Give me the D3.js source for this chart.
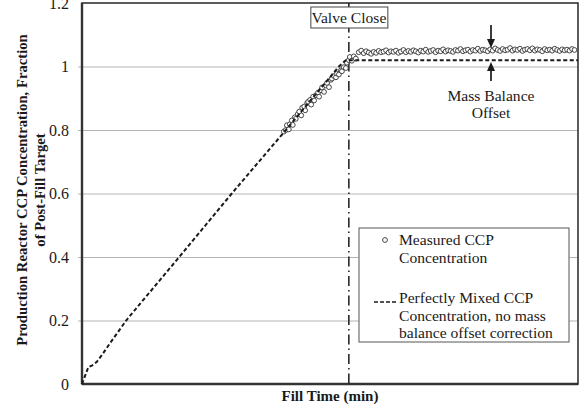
<meta charset="utf-8">
<html>
<script src="https://cdnjs.cloudflare.com/ajax/libs/d3/7.8.5/d3.min.js"></script>
<style>
body { margin: 0; background: #fff; }
svg text { font-family: "Liberation Serif", "Times New Roman", serif; fill: #1a1a1a; }
</style>
<body>
<svg id="chart" width="584" height="416"></svg>
<script type="text/javascript">

// ---- data ----
var yTicks = [0, 0.2, 0.4, 0.6, 0.8, 1, 1.2];
var yTickLabels = ["0", "0.2", "0.4", "0.6", "0.8", "1", "1.2"];

// perfectly mixed (dashed) curve
var mixedTime = [0, 1.3, 2.0, 3.0, 4.0, 5.5, 8.9, 19.6, 30.2, 41.1, 51.8, 53.2, 100];
var mixedConc = [0, 0.054, 0.058, 0.07, 0.091, 0.125, 0.2, 0.4, 0.6, 0.8, 1.0, 1.02, 1.02];

// measured points while filling
var rampTime = [40.7, 41.1, 41.3, 41.7, 41.9, 42.3, 42.5, 42.9, 43.1, 43.5,
                43.8, 44.2, 44.4, 44.8, 45.0, 45.4, 45.6, 46.0, 46.2, 46.6,
                46.8, 47.2, 47.6, 47.8, 48.2, 48.4, 48.8, 49.2, 49.4, 49.8,
                50.2, 50.4, 50.8, 51.2, 51.4, 51.8, 52.2, 52.4, 52.8, 53.2,
                53.4, 53.8, 54.0, 54.4, 54.8, 55.2];
var rampConc = [0.795, 0.80, 0.815, 0.802, 0.818, 0.83, 0.816, 0.84, 0.835, 0.85,
                0.858, 0.846, 0.87, 0.874, 0.862, 0.885, 0.889, 0.895, 0.88, 0.905,
                0.893, 0.91, 0.918, 0.905, 0.925, 0.934, 0.92, 0.94, 0.948, 0.935,
                0.958, 0.962, 0.97, 0.966, 0.978, 0.975, 0.988, 0.985, 0.998, 0.995,
                1.012, 1.02, 1.03, 1.018, 1.032, 1.025];

// measured points after valve close
var plateauTime = [55.8, 56.3, 56.8, 57.3, 57.8, 58.3, 58.8, 59.3, 59.8, 60.3,
                   60.8, 61.3, 61.8, 62.3, 62.8, 63.3, 63.8, 64.3, 64.8, 65.3,
                   65.8, 66.3, 66.8, 67.3, 67.8, 68.3, 68.8, 69.3, 69.8, 70.3,
                   70.8, 71.3, 71.8, 72.3, 72.8, 73.3, 73.8, 74.3, 74.8, 75.3,
                   75.8, 76.3, 76.8, 77.3, 77.8, 78.3, 78.8, 79.3, 79.8, 80.3,
                   80.8, 81.3, 81.8, 82.3, 82.8, 83.3, 83.8, 84.3, 84.8, 85.3,
                   85.8, 86.3, 86.8, 87.3, 87.8, 88.3, 88.8, 89.3, 89.8, 90.3,
                   90.8, 91.3, 91.8, 92.3, 92.8, 93.3, 93.8, 94.3, 94.8, 95.3,
                   95.8, 96.3, 96.8, 97.3, 97.8, 98.3, 98.8, 99.3];
var plateauConc = [1.045, 1.05, 1.042, 1.048, 1.044, 1.04, 1.046, 1.043, 1.049, 1.045,
                   1.047, 1.051, 1.044, 1.048, 1.046, 1.05, 1.043, 1.047, 1.052, 1.045,
                   1.049, 1.046, 1.051, 1.048, 1.044, 1.05, 1.047, 1.053, 1.046, 1.049,
                   1.052, 1.045, 1.05, 1.048, 1.054, 1.047, 1.051, 1.049, 1.046, 1.052,
                   1.05, 1.055, 1.048, 1.051, 1.053, 1.047, 1.052, 1.05, 1.056, 1.049,
                   1.053, 1.051, 1.048, 1.054, 1.05, 1.057, 1.052, 1.049, 1.055, 1.051,
                   1.053, 1.058, 1.05, 1.054, 1.052, 1.056, 1.049, 1.053, 1.055, 1.051,
                   1.057, 1.05, 1.054, 1.052, 1.048, 1.055, 1.051, 1.053, 1.05, 1.056,
                   1.052, 1.049, 1.054, 1.051, 1.053, 1.05, 1.055, 1.052];

var valveTime = 53.8;

// ---- layout ----
var svg = d3.select("#chart");
var plotLeft = 82, plotRight = 578, plotTop = 3, plotBottom = 384;
var fs = 15.6;

var x = d3.scaleLinear().domain([0, 100]).range([plotLeft, plotRight]);
var y = d3.scaleLinear().domain([0, 1.2]).range([plotBottom, plotTop]);

// gridlines
svg.append("g")
  .attr("transform", "translate(" + plotLeft + ",0)")
  .call(d3.axisLeft(y).tickValues(yTicks.slice(1, 6)).tickSize(-(plotRight - plotLeft)).tickFormat(""))
  .call(function(g) {
    g.select(".domain").remove();
    g.selectAll("line").attr("stroke", "#b4b4b4").attr("stroke-width", 1).attr("x1", -4);
  });

// y tick labels
svg.append("g")
  .attr("transform", "translate(" + plotLeft + ",0)")
  .call(d3.axisLeft(y).tickValues(yTicks).tickSize(0).tickPadding(13)
    .tickFormat(function(d, i) { return yTickLabels[i]; }))
  .call(function(g) {
    g.select(".domain").remove();
    g.selectAll("text").attr("font-size", 16).attr("font-family", "Liberation Serif").attr("fill", "#1a1a1a");
  });

// plot frame
svg.append("rect")
  .attr("x", plotLeft).attr("y", plotTop)
  .attr("width", plotRight - plotLeft).attr("height", plotBottom - plotTop)
  .attr("fill", "none").attr("stroke", "#333").attr("stroke-width", 1.6);
svg.append("line").attr("x1", plotLeft).attr("x2", plotLeft).attr("y1", plotTop).attr("y2", plotBottom)
  .attr("stroke", "#333").attr("stroke-width", 2.4);
svg.append("line").attr("x1", plotLeft).attr("x2", plotRight).attr("y1", plotBottom).attr("y2", plotBottom)
  .attr("stroke", "#333").attr("stroke-width", 2.4);

// valve close line
svg.append("line")
  .attr("x1", x(valveTime)).attr("x2", x(valveTime))
  .attr("y1", plotTop).attr("y2", plotBottom)
  .attr("stroke", "#1a1a1a").attr("stroke-width", 1.5)
  .attr("stroke-dasharray", "10,4,1.5,4");

// measured circles
var measured = d3.zip(rampTime, rampConc).concat(d3.zip(plateauTime, plateauConc));
svg.append("g").selectAll("circle")
  .data(measured)
  .enter().append("circle")
  .attr("cx", function(d) { return x(d[0]); })
  .attr("cy", function(d) { return y(d[1]); })
  .attr("r", 2.4)
  .attr("fill", "#fff")
  .attr("stroke", "#333")
  .attr("stroke-width", 0.9);

// perfectly mixed curve
var line = d3.line()
  .x(function(d) { return x(d[0]); })
  .y(function(d) { return y(d[1]); });
svg.append("path")
  .datum(d3.zip(mixedTime, mixedConc))
  .attr("d", line)
  .attr("fill", "none")
  .attr("stroke", "#1a1a1a")
  .attr("stroke-width", 2)
  .attr("stroke-dasharray", "4,2.5");

// valve close label
var vx = x(valveTime);
svg.append("rect").attr("x", vx - 38).attr("y", 7).attr("width", 77).attr("height", 21)
  .attr("fill", "#fff").attr("stroke", "#444").attr("stroke-width", 1);
svg.append("text").attr("x", vx).attr("y", 23).attr("text-anchor", "middle")
  .attr("font-size", fs).text("Valve Close");

// mass balance offset arrows
var ax = 491;
svg.append("line").attr("x1", ax).attr("x2", ax).attr("y1", 25).attr("y2", 41)
  .attr("stroke", "#1a1a1a").attr("stroke-width", 1.7);
svg.append("path").attr("d", "M" + (ax - 4) + ",39L" + (ax + 4) + ",39L" + ax + ",48Z").attr("fill", "#1a1a1a");
svg.append("line").attr("x1", ax).attr("x2", ax).attr("y1", 70).attr("y2", 81)
  .attr("stroke", "#1a1a1a").attr("stroke-width", 1.7);
svg.append("path").attr("d", "M" + (ax - 4) + ",71L" + (ax + 4) + ",71L" + ax + ",62Z").attr("fill", "#1a1a1a");
svg.append("text").attr("x", ax).attr("y", 101).attr("text-anchor", "middle")
  .attr("font-size", fs).text("Mass Balance");
svg.append("text").attr("x", ax).attr("y", 118).attr("text-anchor", "middle")
  .attr("font-size", fs).text("Offset");

// legend
var lg = svg.append("g");
lg.append("rect").attr("x", 359).attr("y", 228).attr("width", 210).attr("height", 114)
  .attr("fill", "#fff").attr("stroke", "#555").attr("stroke-width", 1);
lg.append("circle").attr("cx", 385).attr("cy", 240).attr("r", 2.4)
  .attr("fill", "#fff").attr("stroke", "#333").attr("stroke-width", 0.9);
lg.append("line").attr("x1", 374).attr("x2", 398).attr("y1", 302).attr("y2", 302)
  .attr("stroke", "#1a1a1a").attr("stroke-width", 1.6).attr("stroke-dasharray", "4,2");
var legendLines = [
  ["Measured CCP", 245],
  ["Concentration", 263],
  ["Perfectly Mixed CCP", 303],
  ["Concentration, no mass", 321],
  ["balance offset correction", 338]
];
lg.selectAll("text.leg").data(legendLines).enter().append("text")
  .attr("class", "leg")
  .attr("x", 399).attr("y", function(d) { return d[1]; })
  .attr("font-size", fs).text(function(d) { return d[0]; });

// axis titles
svg.append("text").attr("x", 330).attr("y", 401).attr("text-anchor", "middle")
  .attr("font-size", 15).attr("font-weight", "bold").text("Fill Time (min)");
var yt = svg.append("text").attr("transform", "translate(27,190) rotate(-90)")
  .attr("text-anchor", "middle").attr("font-size", 14.7).attr("font-weight", "bold");
yt.append("tspan").attr("x", 0).attr("y", 0).text("Production Reactor CCP Concentration, Fraction");
yt.append("tspan").attr("x", 0).attr("y", 18).text("of Post-Fill Target");

</script>
</body>
</html>
